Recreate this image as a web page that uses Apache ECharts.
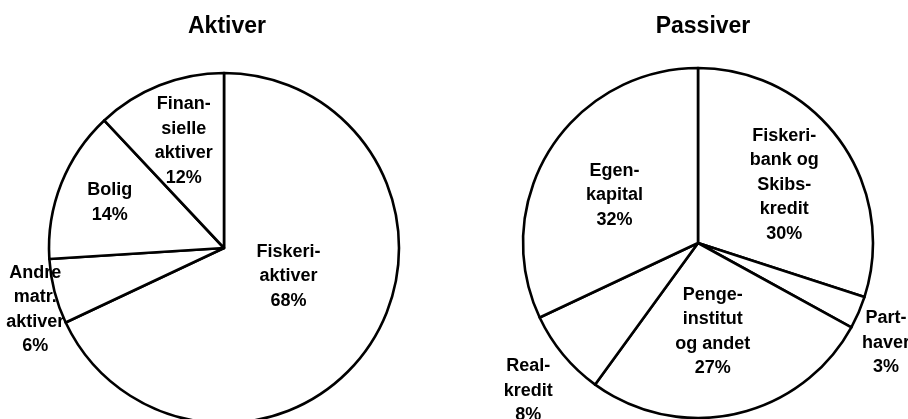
<!DOCTYPE html>
<html>
<head>
<meta charset="utf-8">
<script src="https://cdn.jsdelivr.net/npm/echarts@6/dist/echarts.min.js"></script>
<style>
  html, body { margin: 0; padding: 0; background: #fff; }
  #chart { width: 908px; height: 419px; }
</style>
</head>
<body>
<div id="chart"></div>
<script>
// Aktiver (assets) shares, clockwise from 12 o'clock
const aktiverNames = ['Fiskeri-\naktiver', 'Andre\nmatr.\naktiver', 'Bolig', 'Finan-\nsielle\naktiver'];
const aktiverValues = [68, 6, 14, 12];

// Passiver (liabilities) shares, clockwise from 12 o'clock
const passiverNames = ['Fiskeri-\nbank og\nSkibs-\nkredit', 'Part-\nhaver', 'Penge-\ninstitut\nog andet', 'Real-\nkredit', 'Egen-\nkapital'];
const passiverValues = [30, 3, 27, 8, 32];

// label nudges away from the default inside spot (pixels)
const labelNudge = [
    [[-12, -20], [-101, 39], [-30, -12], [-7, -23]],
    [[13, -5], [105, 64], [-5, 0], [-100, 90], [-7, 1]]
];

const FONT = 'Liberation Sans, Arial, sans-serif';

function toData(names, values) {
    return names.map((n, i) => ({ name: n, value: values[i] }));
}

function pieSeries(data, center) {
    return {
        type: 'pie',
        center: center,
        radius: 175,
        startAngle: 90,
        clockwise: true,
        avoidLabelOverlap: false,
        silent: true,
        data: data,
        itemStyle: { color: '#ffffff', borderColor: '#000000', borderWidth: 2.6 },
        label: {
            show: true,
            position: 'inside',
            formatter: p => p.name + '\n' + p.value + '%',
            color: '#000',
            fontFamily: FONT,
            fontWeight: 'bold',
            fontSize: 18,
            lineHeight: 24.5,
            align: 'center'
        },
        labelLine: { show: false },
        labelLayout: p => {
            const n = labelNudge[p.seriesIndex][p.dataIndex];
            return { dx: n[0], dy: n[1] };
        },
        emphasis: { disabled: true }
    };
}

const chart = echarts.init(document.getElementById('chart'));
chart.setOption({
    animation: false,
    backgroundColor: '#fff',
    title: [
        { text: 'Aktiver', left: 222, top: 10, textAlign: 'center',
          textStyle: { fontFamily: FONT, fontWeight: 'bold', fontSize: 23, color: '#000' } },
        { text: 'Passiver', left: 698, top: 10, textAlign: 'center',
          textStyle: { fontFamily: FONT, fontWeight: 'bold', fontSize: 23, color: '#000' } }
    ],
    series: [
        pieSeries(toData(aktiverNames, aktiverValues), [224, 248]),
        pieSeries(toData(passiverNames, passiverValues), [698, 243])
    ]
});
</script>
</body>
</html>
